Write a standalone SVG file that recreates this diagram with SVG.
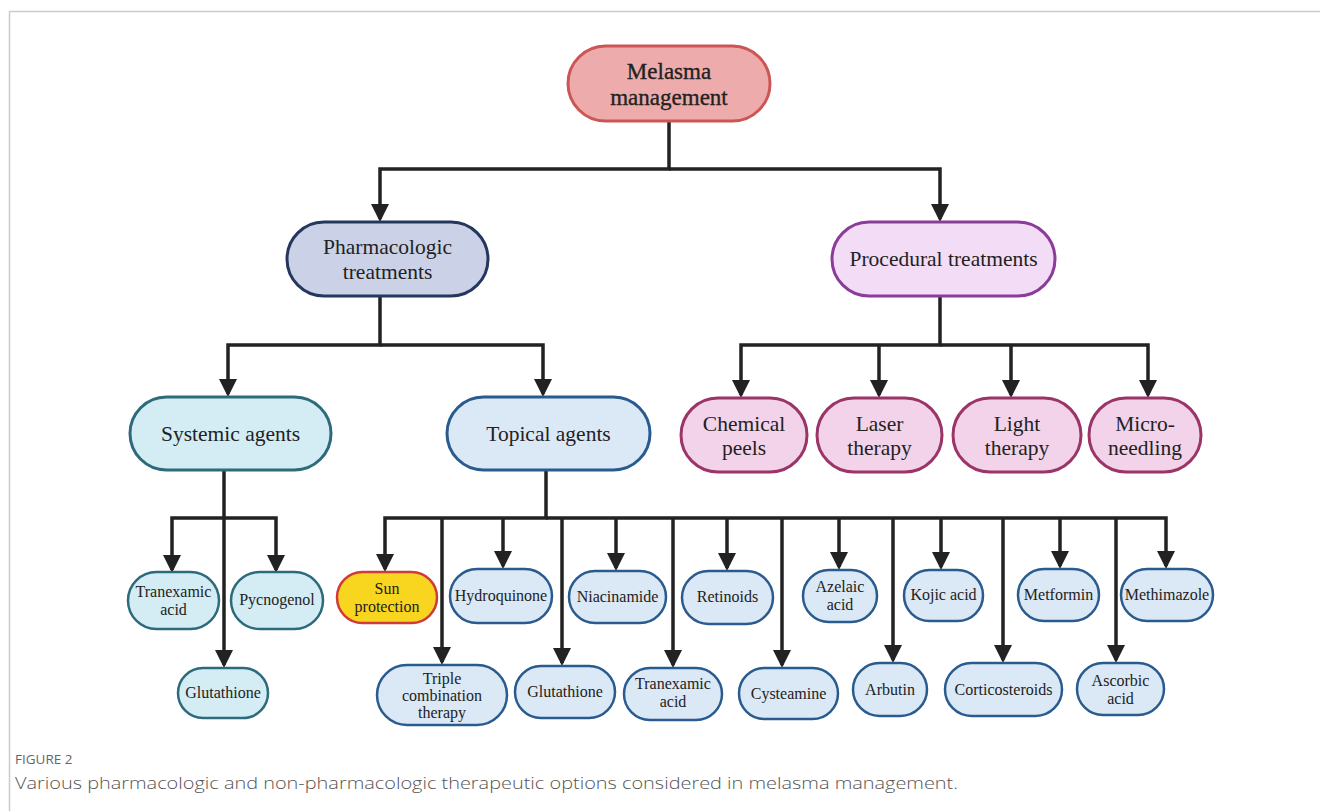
<svg xmlns="http://www.w3.org/2000/svg" width="1320" height="811" viewBox="0 0 1320 811">
<style>
text{font-family:"Liberation Serif","Times New Roman",serif;fill:#222;text-anchor:middle}
.big{font-size:23px;stroke:#222;stroke-width:0.35}
.mid{font-size:21.5px}
.sm{font-size:16px}
.cap1{font-family:"Open Sans","Liberation Sans",sans-serif;font-size:13.5px;fill:#666;text-anchor:start}
.cap2{font-family:"Open Sans","Liberation Sans",sans-serif;font-size:17px;font-weight:300;fill:#555;text-anchor:start}
.root{fill:#eeabab;stroke:#cc5656;stroke-width:3}
.pharm{fill:#cbd2e7;stroke:#25365f;stroke-width:3}
.proc{fill:#f2dcf6;stroke:#8b3b9a;stroke-width:3}
.sys{fill:#d4ecf3;stroke:#2d6b7c;stroke-width:3}
.sysc{fill:#d4ecf3;stroke:#2d6b7c;stroke-width:2.5}
.top{fill:#dbe8f5;stroke:#2a5b8f;stroke-width:3}
.topc{fill:#dbe8f5;stroke:#2a5b8f;stroke-width:2.5}
.procc{fill:#f2d3e9;stroke:#9b3467;stroke-width:3}
.sun{fill:#f8d51f;stroke:#d03a3a;stroke-width:2.5}
.c{fill:none;stroke:#222;stroke-width:3.5;stroke-linejoin:miter}
.a{marker-end:url(#ah)}
</style>
<defs>
<marker id="ah" markerUnits="userSpaceOnUse" markerWidth="18" markerHeight="18" viewBox="0 0 18 18" refX="15" refY="9" orient="auto">
<path d="M0,0 L18,9 L0,18 Z" fill="#222"/>
</marker>
</defs>
<rect width="1320" height="811" fill="#fff"/>
<path d="M9.5,811 V11.5 H1320" fill="none" stroke="#cbcbcb" stroke-width="1.5"/>

<g id="connectors">
<path class="c a" d="M669,121 V169 H380 V219"/>
<path class="c a" d="M669,169 H940 V219"/>
<path class="c a" d="M380,296 V345 H228 V394"/>
<path class="c a" d="M380,345 H543 V394"/>
<path class="c a" d="M940,296 V345 H741 V395"/>
<path class="c a" d="M940,345 H1148 V395"/>
<path class="c a" d="M879,345 V395"/>
<path class="c a" d="M1011,345 V395"/>
<path class="c a" d="M224,470 V665"/>
<path class="c a" d="M224,518 H172 V570"/>
<path class="c a" d="M224,518 H276 V570"/>
<path class="c a" d="M546,470 V518 H385 V569"/>
<path class="c a" d="M546,518 H1166 V566"/>
<path class="c a" d="M503,518 V566"/>
<path class="c a" d="M616,518 V568"/>
<path class="c a" d="M727,518 V568"/>
<path class="c a" d="M839,518 V567"/>
<path class="c a" d="M941,518 V567"/>
<path class="c a" d="M1060,518 V566"/>
<path class="c a" d="M442,518 V662"/>
<path class="c a" d="M562,518 V663"/>
<path class="c a" d="M673,518 V665"/>
<path class="c a" d="M782,518 V665"/>
<path class="c a" d="M893,518 V660"/>
<path class="c a" d="M1003,518 V660"/>
<path class="c a" d="M1116,518 V660"/>
</g>

<g id="melasma"><rect class="root" x="568" y="46" width="202" height="75" rx="37.5"/><text class="big" x="669" y="79">Melasma</text><text class="big" x="669" y="105">management</text></g>

<g id="pharmacologic"><rect class="pharm" x="287" y="222" width="201" height="74" rx="37"/><text class="mid" x="387.5" y="254">Pharmacologic</text><text class="mid" x="387.5" y="279">treatments</text></g>
<g id="procedural"><rect class="proc" x="832" y="222" width="223" height="74" rx="37"/><text class="mid" x="943.5" y="266">Procedural treatments</text></g>

<g id="systemic"><rect class="sys" x="130" y="397" width="201" height="73" rx="36.5"/><text class="mid" x="230.5" y="441">Systemic agents</text></g>
<g id="topical"><rect class="top" x="447" y="397" width="203" height="73" rx="36.5"/><text class="mid" x="548.5" y="441">Topical agents</text></g>

<g id="chemical-peels"><rect class="procc" x="681" y="398" width="126" height="74" rx="37"/><text class="mid" x="744" y="431">Chemical</text><text class="mid" x="744" y="455">peels</text></g>
<g id="laser-therapy"><rect class="procc" x="817" y="398" width="125" height="74" rx="37"/><text class="mid" x="879.5" y="431">Laser</text><text class="mid" x="879.5" y="455">therapy</text></g>
<g id="light-therapy"><rect class="procc" x="953" y="398" width="128" height="74" rx="37"/><text class="mid" x="1017" y="431">Light</text><text class="mid" x="1017" y="455">therapy</text></g>
<g id="microneedling"><rect class="procc" x="1089" y="398" width="112" height="74" rx="37"/><text class="mid" x="1145" y="431">Micro-</text><text class="mid" x="1145" y="455">needling</text></g>

<g id="sys-tranexamic"><rect class="sysc" x="128" y="572" width="91" height="57" rx="28.5"/><text class="sm" x="173.5" y="597">Tranexamic</text><text class="sm" x="173.5" y="615">acid</text></g>
<g id="sys-pycnogenol"><rect class="sysc" x="231" y="572" width="92" height="57" rx="28.5"/><text class="sm" x="277" y="605">Pycnogenol</text></g>
<g id="sys-glutathione"><rect class="sysc" x="178" y="668" width="90" height="50" rx="25"/><text class="sm" x="223" y="698">Glutathione</text></g>

<g id="sun-protection"><rect class="sun" x="337" y="572" width="100" height="51" rx="25.5"/><text class="sm" x="387" y="594">Sun</text><text class="sm" x="387" y="612">protection</text></g>
<g id="hydroquinone"><rect class="topc" x="450" y="569" width="102" height="54" rx="27"/><text class="sm" x="501" y="601">Hydroquinone</text></g>
<g id="niacinamide"><rect class="topc" x="569" y="571" width="97" height="52" rx="26"/><text class="sm" x="617.5" y="602">Niacinamide</text></g>
<g id="retinoids"><rect class="topc" x="682" y="571" width="91" height="53" rx="26.5"/><text class="sm" x="727.5" y="602">Retinoids</text></g>
<g id="azelaic-acid"><rect class="topc" x="803" y="570" width="74" height="52" rx="26"/><text class="sm" x="840" y="592">Azelaic</text><text class="sm" x="840" y="610">acid</text></g>
<g id="kojic-acid"><rect class="topc" x="904" y="570" width="79" height="51" rx="25.5"/><text class="sm" x="943.5" y="600">Kojic acid</text></g>
<g id="metformin"><rect class="topc" x="1018" y="569" width="81" height="52" rx="26"/><text class="sm" x="1058.5" y="600">Metformin</text></g>
<g id="methimazole"><rect class="topc" x="1121" y="569" width="92" height="52" rx="26"/><text class="sm" x="1167" y="600">Methimazole</text></g>

<g id="triple-combination"><rect class="topc" x="377" y="665" width="130" height="60" rx="30"/><text class="sm" x="442" y="684">Triple</text><text class="sm" x="442" y="701">combination</text><text class="sm" x="442" y="718">therapy</text></g>
<g id="top-glutathione"><rect class="topc" x="515" y="666" width="100" height="52" rx="26"/><text class="sm" x="565" y="697">Glutathione</text></g>
<g id="top-tranexamic"><rect class="topc" x="624" y="668" width="98" height="52" rx="26"/><text class="sm" x="673" y="689">Tranexamic</text><text class="sm" x="673" y="707">acid</text></g>
<g id="cysteamine"><rect class="topc" x="739" y="668" width="99" height="51" rx="25.5"/><text class="sm" x="788.5" y="699">Cysteamine</text></g>
<g id="arbutin"><rect class="topc" x="853" y="663" width="74" height="53" rx="26.5"/><text class="sm" x="890" y="695">Arbutin</text></g>
<g id="corticosteroids"><rect class="topc" x="945" y="663" width="117" height="53" rx="26.5"/><text class="sm" x="1003.5" y="695">Corticosteroids</text></g>
<g id="ascorbic-acid"><rect class="topc" x="1077" y="663" width="87" height="52" rx="26"/><text class="sm" x="1120.5" y="686">Ascorbic</text><text class="sm" x="1120.5" y="704">acid</text></g>

<g id="caption">
<text class="cap1" x="15" y="764">FIGURE 2</text>
<text class="cap2" x="15" y="789" textLength="943" lengthAdjust="spacingAndGlyphs">Various pharmacologic and non-pharmacologic therapeutic options considered in melasma management.</text>
</g>
</svg>
